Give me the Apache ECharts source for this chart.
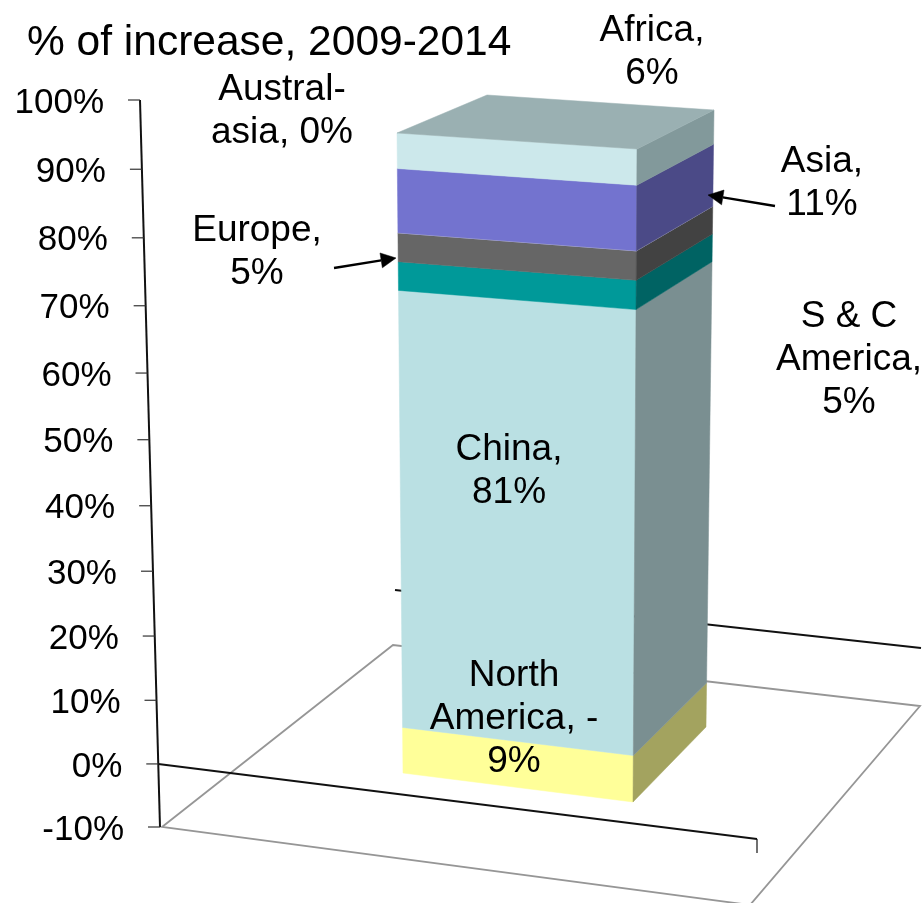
<!DOCTYPE html>
<html>
<head>
<meta charset="utf-8">
<style>html,body{margin:0;padding:0;background:#fff}#c{width:923px;height:903px}</style>
<script src="https://cdn.jsdelivr.net/npm/echarts@6/dist/echarts.min.js"></script>
</head>
<body>
<div id="c"></div>
<script>
// ---- data ----
const categories = ['North America', 'China', 'S & C America', 'Europe', 'Asia', 'Africa', 'Australasia'];
const increasePct = [-9, 81, 5, 5, 11, 6, 0];
const dataLabels = ['North\nAmerica, -\n9%', 'China,\n81%', 'S & C\nAmerica,\n5%', 'Europe,\n5%', 'Asia,\n11%', 'Africa,\n6%', 'Austral-\nasia, 0%'];
const tickValues = [100, 90, 80, 70, 60, 50, 40, 30, 20, 10, 0, -10];
const titleText = '% of increase, 2009-2014';

// ---- styles ----
const frontColors = ['#FFFF99', '#BAE0E3', '#009999', '#666666', '#7373CF', '#CCE8EB', '#CCE8EB'];
const sideColors = ['#A3A35F', '#7A8F91', '#006363', '#424242', '#4B4A87', '#82999B', '#82999B'];
const topColor = '#9AB0B2';
const FONT = '"Liberation Sans", Arial, sans-serif';

// ---- projection of the 3D look ----
const AXIS_MIN = -10, AXIS_MAX = 100;
const warp = (t, a) => t * a / (1 + (a - 1) * t);
// stacking: negatives go down from 0, positives go up from 0
const segments = [];
let pos = 0, neg = 0;
increasePct.forEach((v, i) => {
  if (v < 0) { segments.push([i, neg + v, neg]); neg += v; }
  else { segments.push([i, pos, pos + v]); pos += v; }
});
const barLow = neg, barHigh = pos;
const barWarp = 0.92, axisWarp = 0.95;
const edges = {
  FL: [[403, 773], [397, 133]],
  FR: [[633, 802], [637, 149]],
  BR: [[706, 727], [714, 110]],
  BL: [[494, 720], [487, 95]]
};
const axisEdge = [[160, 827], [140, 100]];
function onEdge(api, edge, v, lo, hi, a) {
  const y = x => api.coord([0, x])[1];
  const s = warp((y(lo) - y(v)) / (y(lo) - y(hi)), a);
  return [edge[0][0] + (edge[1][0] - edge[0][0]) * s, edge[0][1] + (edge[1][1] - edge[0][1]) * s];
}
const poly = (points, fill) => ({ type: 'polygon', shape: { points }, style: { fill, stroke: fill, lineWidth: 0.5 } });
const seg = (a, b, stroke, w) => ({ type: 'line', shape: { x1: a[0], y1: a[1], x2: b[0], y2: b[1] }, style: { stroke, lineWidth: w, fill: null } });
const txt = (x, y, text, size, align, lh) => ({
  type: 'text', x, y,
  style: { text, font: size + 'px ' + FONT, fill: '#000', align: align || 'center', verticalAlign: 'middle', lineHeight: lh || Math.round(size * 1.18) }
});
function arrow(tail, tip) {
  const dx = tip[0] - tail[0], dy = tip[1] - tail[1], L = Math.hypot(dx, dy), ux = dx / L, uy = dy / L;
  const bx = tip[0] - ux * 15, by = tip[1] - uy * 15;
  return [seg(tail, [bx, by], '#000', 2.4),
    poly([tip, [bx - uy * 7.5, by + ux * 7.5], [bx + uy * 7.5, by - ux * 7.5]], '#000')];
}

function renderWalls(params, api) {
  const kids = [];
  // floor
  kids.push({ type: 'polygon', shape: { points: [[162, 827], [393, 645], [920, 706], [750, 905]] }, style: { fill: 'none', stroke: '#969696', lineWidth: 1.8 } });
  // zero plane
  kids.push(seg(onEdge(api, axisEdge, 0, AXIS_MIN, AXIS_MAX, axisWarp), [757, 839], '#111', 2));
  kids.push(seg([757, 839], [757, 853], '#111', 1.2));
  kids.push(seg([395, 590], [921, 648], '#111', 2));
  // axis line, ticks and labels
  const bot = onEdge(api, axisEdge, AXIS_MIN, AXIS_MIN, AXIS_MAX, axisWarp);
  const top = onEdge(api, axisEdge, AXIS_MAX, AXIS_MIN, AXIS_MAX, axisWarp);
  kids.push(seg(bot, top, '#111', 2));
  tickValues.forEach(v => {
    const p = onEdge(api, axisEdge, v, AXIS_MIN, AXIS_MAX, axisWarp);
    kids.push(seg([p[0] - 12, p[1]], p, '#333', 1.2));
    kids.push(txt(p[0] - 36, p[1] + 3, v + '%', 35, 'right'));
  });
  return { type: 'group', children: kids };
}
function renderSegment(params, api) {
  const i = api.value(0), lo = api.value(1), hi = api.value(2);
  if (lo === hi) return null;
  const at = (e, v) => onEdge(api, edges[e], v, barLow, barHigh, barWarp);
  const kids = [
    poly([at('FL', lo), at('FR', lo), at('FR', hi), at('FL', hi)], frontColors[i]),
    poly([at('FR', lo), at('BR', lo), at('BR', hi), at('FR', hi)], sideColors[i])
  ];
  if (hi === barHigh) kids.push(poly([at('FL', hi), at('FR', hi), at('BR', hi), at('BL', hi)], topColor));
  if (categories[i] === 'Europe') {
    kids.push(seg(at('FL', hi), at('FR', hi), '#c9c9d8', 1));
    kids.push(seg(at('FR', hi), at('BR', hi), '#b8b8c4', 1));
  }
  return { type: 'group', children: kids };
}
const labelPlaces = [[514, 719], [509, 471], [849, 360], [257, 252], [822, 183], [652, 52], [282, 111]];
function renderLabels(params, api) {
  const kids = dataLabels.map((t, i) => txt(labelPlaces[i][0], labelPlaces[i][1], t, 37, 'center', 43));
  kids.push(txt(27, 43, titleText, 42.5, 'left'));
  kids.push(...arrow([334, 268], [396, 258]));
  kids.push(...arrow([775, 206], [708, 195]));
  return { type: 'group', children: kids };
}

const chart = echarts.init(document.getElementById('c'), null, { renderer: 'canvas' });
chart.setOption({
  animation: false,
  backgroundColor: '#fff',
  grid: { left: 140, right: 200, top: 100, bottom: 76 },
  xAxis: { type: 'category', data: ['2009-2014'], show: false },
  yAxis: { type: 'value', min: AXIS_MIN, max: AXIS_MAX, interval: 10, show: false },
  series: [
    { type: 'custom', name: 'walls', silent: true, clip: false, z: 1, renderItem: renderWalls, data: [[0, 0]] },
    { type: 'custom', name: 'Increase', silent: true, clip: false, z: 2, renderItem: renderSegment,
      encode: { x: 0, y: [1, 2] }, data: segments },
    { type: 'custom', name: 'labels', silent: true, clip: false, z: 3, renderItem: renderLabels, data: [[0, 0]] }
  ]
});
</script>
</body>
</html>
